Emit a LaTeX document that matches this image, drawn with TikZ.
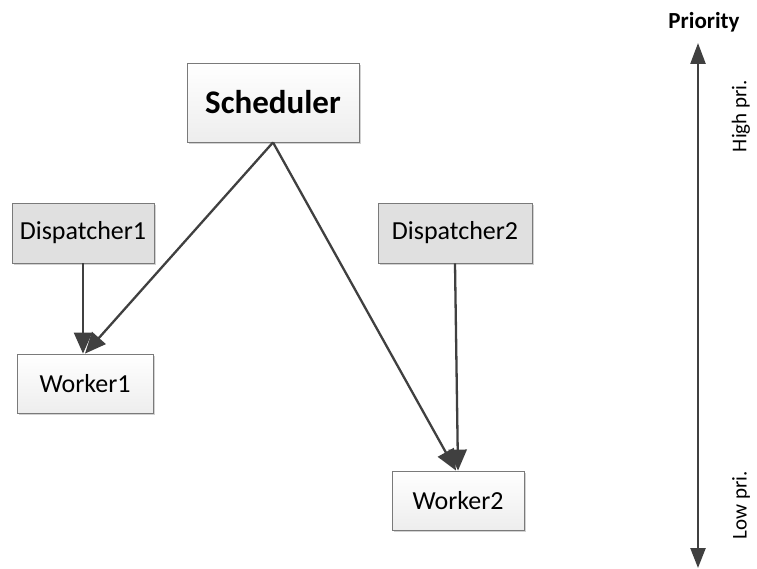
\documentclass[tikz,border=0pt]{standalone}
\usepackage{fontspec}
\setmainfont{Carlito}
\usetikzlibrary{arrows.meta,shadows}
\definecolor{edgec}{HTML}{404040}
\definecolor{boxline}{HTML}{7A7A7A}
\definecolor{dispfill}{HTML}{E0E0E0}
\tikzset{
  basebox/.style={draw=boxline, line width=0.8pt, inner sep=0pt,
    drop shadow={shadow xshift=2pt, shadow yshift=-2pt, fill=gray!35, opacity=1}},
  whitebox/.style={basebox, top color=white, bottom color=gray!14},
  dispbox/.style={basebox, fill=dispfill},
  conn/.style={draw=edgec, line width=2.3pt, -{Triangle[length=21pt,width=18pt]}},
  axis/.style={draw=edgec, line width=2.4pt, {Triangle[length=21pt,width=15pt]}-{Triangle[length=20pt,width=15pt]}},
}
\begin{document}
\begin{tikzpicture}[x=1pt,y=-1pt]
\useasboundingbox (0,0) rectangle (757,569);
\node[whitebox, minimum width=172pt, minimum height=79pt, font=\fontsize{33}{38}\selectfont\bfseries] (sched) at (273,102.5) {Scheduler};
\node[dispbox, minimum width=142pt, minimum height=60pt, font=\fontsize{26}{30}\selectfont] (d1) at (83,233) {Dispatcher1};
\node[whitebox, minimum width=136pt, minimum height=59pt, font=\fontsize{26}{30}\selectfont] (w1) at (85,383.5) {Worker1};
\node[dispbox, minimum width=154pt, minimum height=60pt, font=\fontsize{26}{30}\selectfont] (d2) at (455,233) {Dispatcher2};
\node[whitebox, minimum width=132pt, minimum height=59pt, font=\fontsize{26}{30}\selectfont] (w2) at (458,500.5) {Worker2};
\draw[conn] (sched.south) -- (w1.north);
\draw[conn] (d1.south) -- (d1.south |- w1.north);
\draw[conn] (sched.south) -- ([xshift=-2pt]w2.north);
\draw[conn] (d2.south) -- (w2.north);
\coordinate (ptop) at (698,43);
\coordinate (pbot) at (698,568);
\draw[axis] (ptop) -- (pbot);
\node[font=\fontsize{23}{27}\selectfont\bfseries] (prio) at (704,22) {Priority};
\node[rotate=90, font=\fontsize{21}{25}\selectfont] (high) at (741,116) {High pri.};
\node[rotate=90, font=\fontsize{21}{25}\selectfont] (low) at (741,505) {Low pri.};
\end{tikzpicture}
\end{document}
